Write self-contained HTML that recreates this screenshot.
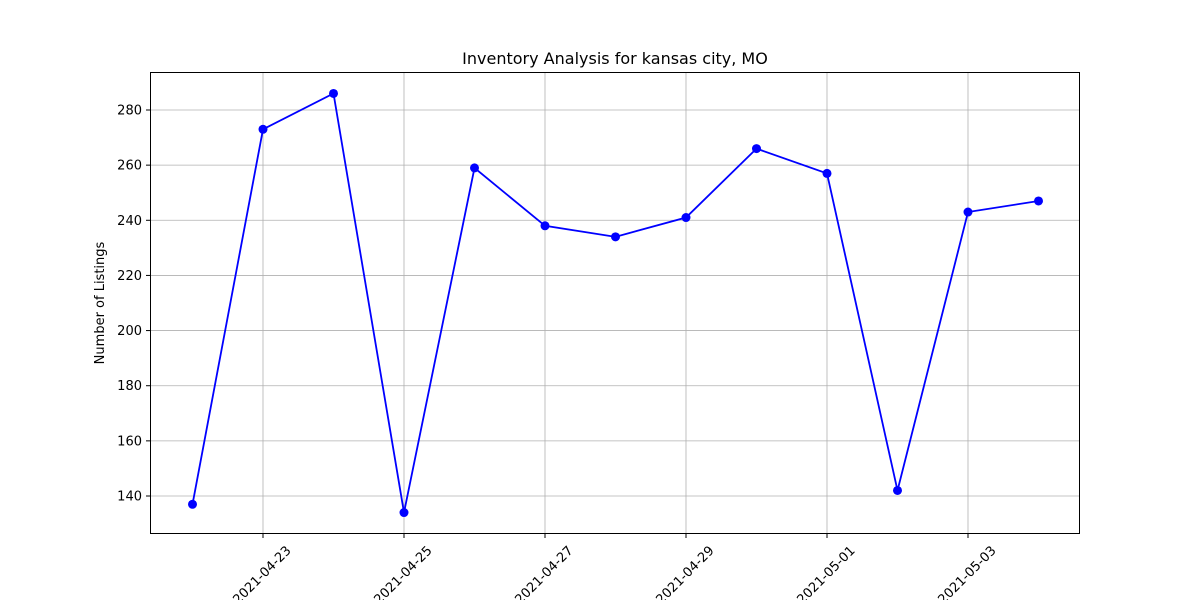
<!DOCTYPE html>
<html><head><meta charset="utf-8"><style>
body{margin:0;background:#fff;}
svg{display:block;font-family:"DejaVu Sans","Liberation Sans",sans-serif;}
</style></head><body>
<svg id="chart" width="1200" height="600">
<text x="615" y="64" text-anchor="middle" font-size="16" fill="#000">Inventory Analysis for kansas city, MO</text>
<text transform="translate(104,303) rotate(-90)" text-anchor="middle" font-size="13" fill="#000">Number of Listings</text>
<g id="grid"></g><g id="ticks"></g><g id="series"></g>
<rect x="150.5" y="72.5" width="929" height="461" fill="none" stroke="#000" stroke-width="1"/>
</svg>
<script>
const dates=["2021-04-22","2021-04-23","2021-04-24","2021-04-25","2021-04-26","2021-04-27","2021-04-28","2021-04-29","2021-04-30","2021-05-01","2021-05-02","2021-05-03","2021-05-04"];
const listings=[137,273,286,134,259,238,234,241,266,257,142,243,247];
const yTicks=[140,160,180,200,220,240,260,280];
const xTickLabels=["2021-04-23","2021-04-25","2021-04-27","2021-04-29","2021-05-01","2021-05-03"];
const NS="http://www.w3.org/2000/svg";
const day0=Date.parse(dates[0]);
function xs(d){return 192.5+(Date.parse(d)-day0)/86400000*70.5;}
function ys(v){return 110+(280-v)*(386/140);}
function mk(t,a,p){const e=document.createElementNS(NS,t);for(const k in a)e.setAttribute(k,a[k]);p.appendChild(e);return e;}
const grid=document.getElementById('grid'),ticks=document.getElementById('ticks'),series=document.getElementById('series');
yTicks.forEach(v=>{const y=ys(v);
const g=mk('line',{x1:150,x2:1080,y1:y,y2:y,stroke:'#b0b0b0','stroke-width':0.8},grid);

mk('line',{x1:146,x2:150,y1:y,y2:y,stroke:'#000'},ticks);
const t=mk('text',{x:142,y:y+4.5,'text-anchor':'end','font-size':13},ticks);t.textContent=v;
});
xTickLabels.forEach(d=>{const x=xs(d);
const g=mk('line',{x1:x,x2:x,y1:72,y2:534,stroke:'#b0b0b0','stroke-width':0.8},grid);

mk('line',{x1:x,x2:x,y1:534,y2:538,stroke:'#000'},ticks);
const t=mk('text',{x:0,y:0,'text-anchor':'middle','font-size':13,transform:`translate(${x+2},${578}) rotate(-45)`},ticks);t.textContent=d;
});
const pts=dates.map((d,i)=>xs(d)+','+ys(listings[i])).join(' ');
const pl=mk('polyline',{points:pts,fill:'none',stroke:'#0000ff','stroke-width':1.8},series);

dates.forEach((d,i)=>{const c=mk('circle',{cx:xs(d),cy:ys(listings[i]),r:4.5,fill:'#0000ff'},series);
});
</script>
</body></html>
